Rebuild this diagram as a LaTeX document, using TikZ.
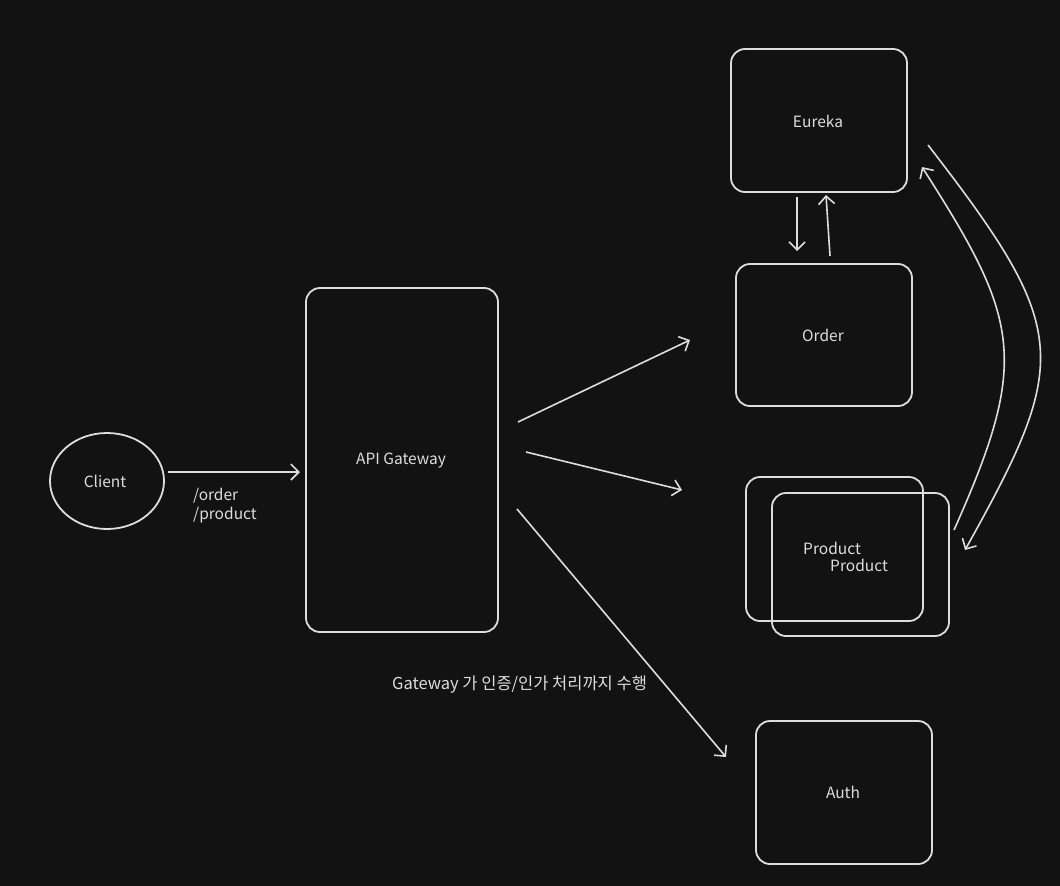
\documentclass[tikz,border=0pt]{standalone}
\usepackage{fontspec}
\setmainfont{Noto Sans CJK KR}
\usetikzlibrary{arrows.meta,shapes.geometric}
\definecolor{bg}{HTML}{121212}
\definecolor{ink}{HTML}{DDDDDD}
\tikzset{
  box/.style={draw=ink, line width=1.8pt, rounded corners=14pt, inner sep=0pt},
  lbl/.style={text=ink, font=\fontsize{15.5}{18}\selectfont, inner sep=0pt},
  conn/.style={draw=ink, line width=1.6pt, -{Straight Barb[length=8pt,width=16pt,line width=1.6pt]}},
}
\begin{document}
\begin{tikzpicture}[x=1pt,y=-1pt]
\fill[bg] (0,0) rectangle (1060,886);
\useasboundingbox (0,0) rectangle (1060,886);
% nodes
\node[draw=ink, line width=1.8pt, ellipse, minimum width=114pt, minimum height=96pt, inner sep=0pt] (client) at (107,481) {};
\node[lbl] at (105,481) {Client};
\node[box, minimum width=192pt, minimum height=344pt] (gw) at (402,460) {};
\node[lbl] at (401,461) {API Gateway};
\node[box, minimum width=176pt, minimum height=143pt] (eureka) at (819,120.5) {};
\node[lbl] at (818,121) {Eureka};
\node[box, minimum width=176pt, minimum height=142pt] (order) at (824,335) {};
\node[lbl] at (823,335) {Order};
\node[box, minimum width=177pt, minimum height=144pt] (prod1) at (834.5,549) {};
\node[box, minimum width=177pt, minimum height=143pt] (prod2) at (860.5,564.5) {};
\node[lbl, anchor=west] at (803,548) {Product};
\node[lbl, anchor=west] at (830,565) {Product};
\node[box, minimum width=176pt, minimum height=143pt] (auth) at (844,792.5) {};
\node[lbl] at (843,792) {Auth};
% labels
\node[lbl, anchor=west] (paths1) at (193,496) {/order};
\node[lbl, anchor=west] (paths2) at (193,515) {/product};
\node[lbl, anchor=west, font=\fontsize{16.5}{20}\selectfont] (note) at (392,685) {Gateway 가 인증/인가 처리까지 수행};
% connector end points
\coordinate (cOut) at (168,472);
\coordinate (gIn) at (300,472);
\coordinate (gwA) at (518,422);
\coordinate (orderIn) at (690,340);
\coordinate (gwB) at (526,452);
\coordinate (prodIn) at (682,490);
\coordinate (gwC) at (517,509);
\coordinate (authIn) at (726,757);
\coordinate (eOut) at (797,197);
\coordinate (oIn) at (797,251);
\coordinate (oOut) at (830,256);
\coordinate (eIn) at (826,195);
\coordinate (eR) at (928,145);
\coordinate (pR) at (965,550);
\coordinate (pL) at (954,530);
\coordinate (eL) at (922,167);
% connectors
\draw[conn] (cOut) -- (gIn);
\draw[conn] (gwA) -- (orderIn);
\draw[conn] (gwB) -- (prodIn);
\draw[conn] (gwC) -- (authIn);
\draw[conn] (eOut) -- (oIn);
\draw[conn] (oOut) -- (eIn);
\draw[conn] (eR) .. controls (1071,330) and (1071,360) .. (pR);
\draw[conn] (pL) .. controls (1030,360) and (1020,320) .. (eL);
\end{tikzpicture}
\end{document}
